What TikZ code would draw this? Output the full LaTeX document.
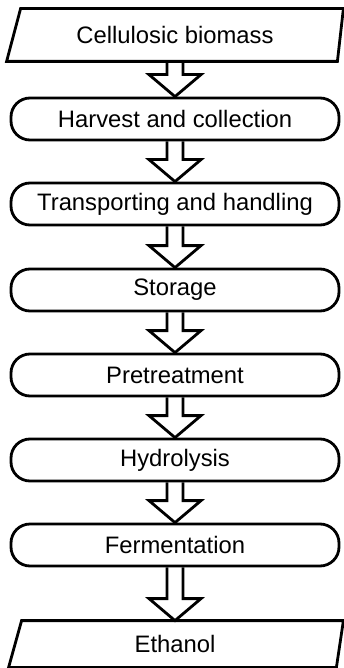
\documentclass[tikz,border=0pt]{standalone}
\usepackage{fontspec}
\setmainfont{Liberation Sans}
\usetikzlibrary{calc}
\begin{document}
\begin{tikzpicture}[x=1pt,y=-1pt,line width=2.8pt,
  proc/.style={draw,rounded corners=19pt,minimum width=328pt,minimum height=42pt,inner sep=0pt,font=\fontsize{23.8}{26}\selectfont},
  io/.style={inner sep=0pt,minimum width=320pt,minimum height=50pt,font=\fontsize{23.8}{26}\selectfont},
  flow/.style={draw,line join=miter}]
\useasboundingbox (0,0) rectangle (343,668);
\node[io] (src) at (175,35) {Cellulosic biomass};
\draw ($(src.north west)+(7,0)$) -- ($(src.north east)+(7,0)$) -- ($(src.south east)+(1,0)$) -- ($(src.south west)+(-7,0)$) -- cycle;
\node[proc] (p1) at (175,119) {Harvest and collection};
\node[proc] (p2) at (175,204) {Transporting and handling};
\node[proc] (p3) at (175,290) {Storage};
\node[proc] (p4) at (175,375) {Pretreatment};
\node[proc] (p5) at (175,460) {Hydrolysis};
\node[proc] (p6) at (175,545) {Fermentation};
\node[io,minimum height=44pt] (dst) at (175,644) {Ethanol};
\draw ($(dst.north west)+(8,0)$) -- ($(dst.north east)+(7,0)$) -- ($(dst.south east)+(0,0)$) -- ($(dst.south west)+(-5,0)$) -- cycle;
\newcommand\flowarrow[2]{%
  \draw[flow] ($(#1.south)+(-8,0)$) -- ($(#2.north)+(-8,-22)$) -- ($(#2.north)+(-26,-22)$) -- (#2.north) -- ($(#2.north)+(26,-22)$) -- ($(#2.north)+(8,-22)$) -- ($(#1.south)+(8,0)$);}
\flowarrow{src}{p1}
\flowarrow{p1}{p2}
\flowarrow{p2}{p3}
\flowarrow{p3}{p4}
\flowarrow{p4}{p5}
\flowarrow{p5}{p6}
\flowarrow{p6}{dst}
\end{tikzpicture}
\end{document}
